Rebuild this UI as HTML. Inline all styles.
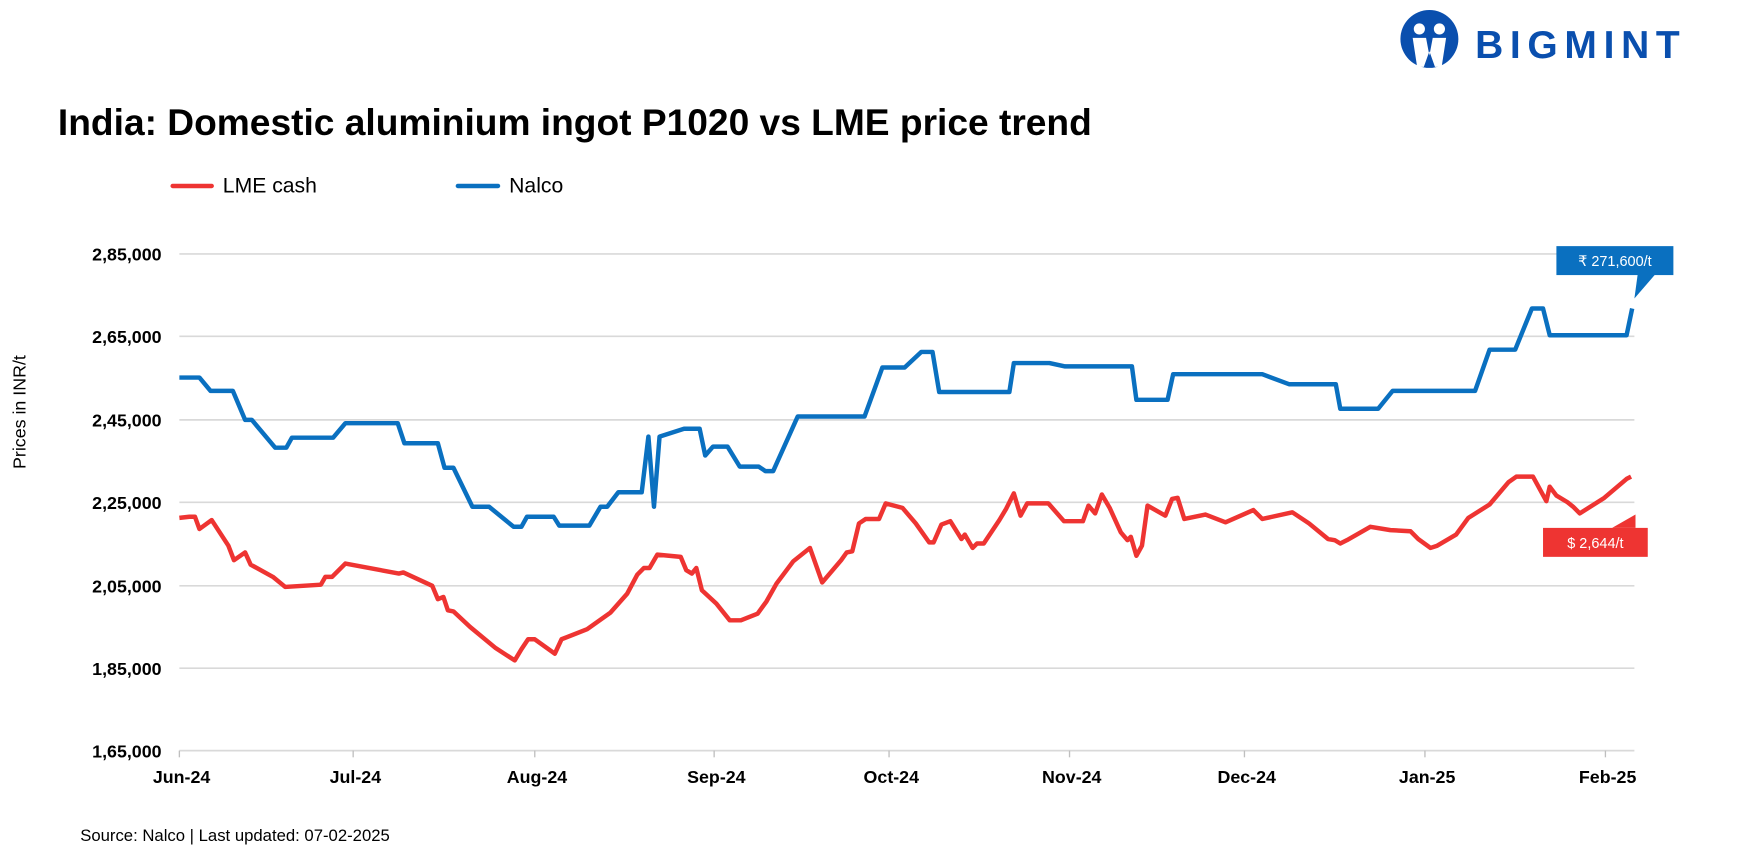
<!DOCTYPE html>
<html><head><meta charset="utf-8"><style>html,body{margin:0;padding:0;background:#fff}svg{display:block}text{font-family:"Liberation Sans",sans-serif}</style></head>
<body>
<svg width="1738" height="862" viewBox="0 0 1560 774" preserveAspectRatio="none" xmlns="http://www.w3.org/2000/svg">
<circle cx="1283" cy="35" r="26" fill="#0a4fae"/>
<circle cx="1274" cy="26" r="5" fill="#fff"/><circle cx="1292" cy="26" r="5" fill="#fff"/>
<path d="M1268 34 L1280 34 L1283 50 L1286 34 L1298 34 L1294 60 L1288 60 L1283 46 L1278 60 L1272 60Z" fill="#fff"/>
<text x="1324" y="52" font-size="35" font-weight="bold" fill="#0a4fae" letter-spacing="6">BIGMINT</text>
<text x="52" y="121" font-size="33" font-weight="bold" fill="#000" textLength="928" lengthAdjust="spacingAndGlyphs">India: Domestic aluminium ingot P1020 vs LME price trend</text>
<line x1="155" y1="167" x2="190" y2="167" stroke="#ee3432" stroke-width="4" stroke-linecap="round"/>
<text x="200" y="173" font-size="19" fill="#000">LME cash</text>
<line x1="411" y1="167" x2="447" y2="167" stroke="#0a70c0" stroke-width="4" stroke-linecap="round"/>
<text x="457" y="173" font-size="19" fill="#000">Nalco</text>
<g stroke="#d9d9d9" stroke-width="1.5">
<line x1="161" y1="228" x2="1467" y2="228"/><line x1="161" y1="302" x2="1467" y2="302"/><line x1="161" y1="377" x2="1467" y2="377"/><line x1="161" y1="451" x2="1467" y2="451"/><line x1="161" y1="526" x2="1467" y2="526"/><line x1="161" y1="600" x2="1467" y2="600"/><line x1="161" y1="674" x2="1467" y2="674"/>
</g>
<g stroke="#bfbfbf" stroke-width="1.2">
<line x1="161" y1="674" x2="161" y2="680"/><line x1="317" y1="674" x2="317" y2="680"/><line x1="480" y1="674" x2="480" y2="680"/><line x1="641" y1="674" x2="641" y2="680"/><line x1="798" y1="674" x2="798" y2="680"/><line x1="960" y1="674" x2="960" y2="680"/><line x1="1117" y1="674" x2="1117" y2="680"/><line x1="1279" y1="674" x2="1279" y2="680"/><line x1="1441" y1="674" x2="1441" y2="680"/>
</g>
<g font-size="16" font-weight="bold" fill="#000" text-anchor="end">
<text x="145" y="234">2,85,000</text><text x="145" y="308">2,65,000</text><text x="145" y="383">2,45,000</text><text x="145" y="457">2,25,000</text><text x="145" y="532">2,05,000</text><text x="145" y="606">1,85,000</text><text x="145" y="680">1,65,000</text>
</g>
<g font-size="16" font-weight="bold" fill="#000" text-anchor="middle">
<text x="163" y="703">Jun-24</text><text x="319" y="703">Jul-24</text><text x="482" y="703">Aug-24</text><text x="643" y="703">Sep-24</text><text x="800" y="703">Oct-24</text><text x="962" y="703">Nov-24</text><text x="1119" y="703">Dec-24</text><text x="1281" y="703">Jan-25</text><text x="1443" y="703">Feb-25</text>
</g>
<text transform="translate(23,370) rotate(-90)" font-size="16" text-anchor="middle" fill="#000">Prices in INR/t</text>
<text x="72" y="755" font-size="15" fill="#000">Source: Nalco | Last updated: 07-02-2025</text>
<polyline fill="none" stroke="#0a70c0" stroke-width="4" stroke-linejoin="round" points="161,339 179,339 189,351 209,351 220,377 226,377 247,402 257,402 262,393 299,393 310,380 357,380 363,398 393,398 399,420 407,420 424,455 439,455 461,473 468,473 473,464 497,464 502,472 529,472 539,455 545,455 555,442 576,442 582,392 587,455 592,392 614,385 628,385 633,409 640,401 653,401 664,419 681,419 687,423 694,423 716,374 776,374 792,330 812,330 827,316 837,316 843,352 906,352 910,326 942,326 956,329 1016,329 1020,359 1048,359 1053,336 1133,336 1157,345 1199,345 1203,367 1237,367 1250,351 1324,351 1337,314 1360,314 1375,277 1385,277 1391,301 1460,301 1465,277"/>
<polyline fill="none" stroke="#ee3432" stroke-width="4" stroke-linejoin="round" points="161,465 170,464 175,464 179,475 190,467 205,490 210,503 220,496 225,507 245,518 256,527 288,525 292,518 298,518 310,506 358,515 362,514 388,526 393,538 398,536 402,548 407,549 422,563 445,582 462,593 468,583 474,574 480,574 498,587 504,574 527,565 548,550 563,533 572,516 578,510 583,510 590,498 611,500 616,512 621,515 625,510 630,530 643,542 655,557 665,557 680,551 688,540 697,524 712,504 727,492 738,523 755,503 760,496 765,495 771,470 777,466 789,466 795,452 810,456 822,470 834,487 838,487 845,471 853,468 863,484 866,480 873,492 877,488 883,488 897,467 903,457 910,443 916,463 922,452 941,452 955,468 972,468 977,454 983,461 989,444 996,456 1006,478 1012,485 1015,482 1020,499 1025,490 1030,454 1046,463 1052,448 1057,447 1063,466 1082,462 1100,469 1125,458 1133,466 1160,460 1175,470 1192,484 1198,485 1203,488 1209,485 1230,473 1248,476 1266,477 1273,484 1284,492 1290,490 1307,480 1318,465 1337,453 1354,433 1361,428 1376,428 1388,450 1391,437 1397,445 1407,451 1412,455 1418,461 1440,447 1460,430 1464,428"/>
<rect x="1397" y="221" width="105" height="26" fill="#0a70c0"/>
<polygon points="1470,246 1486,246 1467,268" fill="#0a70c0"/>
<text x="1449.5" y="239" font-size="13" fill="#fff" text-anchor="middle">₹ 271,600/t</text>
<rect x="1385" y="474" width="94" height="26" fill="#ee3432"/>
<polygon points="1447,474 1468,462 1468,474" fill="#ee3432"/>
<text x="1432" y="492" font-size="13" fill="#fff" text-anchor="middle">$ 2,644/t</text>
</svg>
</body></html>
